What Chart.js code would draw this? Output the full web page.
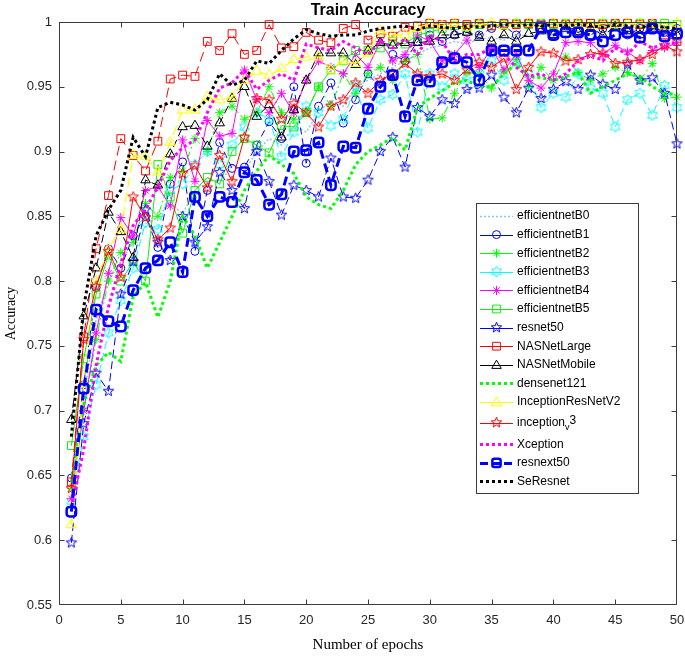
<!DOCTYPE html>
<html>
<head>
<meta charset="utf-8">
<script src="https://cdn.jsdelivr.net/npm/chart.js@4.4.1/dist/chart.umd.min.js"></script>
<style>
html,body{margin:0;padding:0;background:#fff;}
#wrap{width:685px;height:657px;}
</style>
</head>
<body>
<div id="wrap"><canvas id="c" width="685" height="657"></canvas></div>
<script>
// ---------- DATA ----------
const epochs = Array.from({length: 50}, (_, i) => i + 1);
const xTicks = [0, 5, 10, 15, 20, 25, 30, 35, 40, 45, 50];
const yTicks = [0.55, 0.6, 0.65, 0.7, 0.75, 0.8, 0.85, 0.9, 0.95, 1];

const effB0 = [0.640,0.710,0.770,0.800,0.815,0.830,0.842,0.850,0.860,0.852,
               0.870,0.880,0.875,0.890,0.885,0.900,0.910,0.905,0.920,0.915,
               0.930,0.940,0.935,0.950,0.955,0.960,0.965,0.970,0.975,0.980,
               0.982,0.985,0.983,0.987,0.988,0.986,0.990,0.989,0.991,0.990,
               0.992,0.991,0.993,0.992,0.994,0.993,0.992,0.995,0.994,0.993];
const effB1 = [0.648,0.720,0.795,0.825,0.810,0.835,0.850,0.826,0.875,0.892,
               0.823,0.870,0.907,0.887,0.888,0.905,0.923,0.910,0.950,0.891,
               0.935,0.953,0.922,0.940,0.960,0.949,0.975,0.970,0.985,0.990,
               0.985,0.990,0.992,0.990,0.995,0.997,0.990,0.999,0.995,0.990,
               0.997,0.993,0.990,0.995,0.997,0.990,0.995,0.998,0.992,0.995];
const effB2 = [0.640,0.700,0.755,0.800,0.822,0.830,0.860,0.850,0.880,0.885,
               0.910,0.900,0.930,0.935,0.925,0.930,0.950,0.930,0.925,0.930,
               0.950,0.935,0.960,0.945,0.960,0.965,0.955,0.970,0.975,0.925,
               0.926,0.945,0.961,0.960,0.949,0.962,0.971,0.950,0.965,0.955,
               0.973,0.961,0.955,0.960,0.965,0.961,0.955,0.968,0.941,0.942];
const effB3 = [0.630,0.680,0.720,0.760,0.785,0.810,0.845,0.840,0.870,0.875,
               0.890,0.900,0.890,0.905,0.919,0.930,0.925,0.896,0.915,0.935,
               0.930,0.920,0.925,0.951,0.918,0.940,0.944,0.960,0.915,0.960,
               0.950,0.960,0.955,0.960,0.970,0.955,0.970,0.960,0.934,0.945,
               0.942,0.960,0.949,0.945,0.919,0.940,0.945,0.928,0.951,0.934];
const effB4 = [0.632,0.700,0.760,0.806,0.849,0.835,0.870,0.873,0.858,0.909,
               0.877,0.924,0.912,0.914,0.963,0.940,0.930,0.945,0.930,0.955,
               0.970,0.965,0.960,0.975,0.965,0.985,0.970,0.975,0.990,0.985,
               0.970,0.975,0.986,0.965,0.980,0.963,0.975,0.955,0.949,0.960,
               0.984,0.985,0.984,0.975,0.982,0.977,0.970,0.978,0.980,0.984];
const effB5 = [0.673,0.740,0.790,0.820,0.800,0.815,0.800,0.890,0.865,0.837,
               0.870,0.880,0.875,0.900,0.910,0.905,0.899,0.920,0.919,0.930,
               0.950,0.963,0.970,0.978,0.978,0.980,0.985,0.983,0.990,0.992,
               0.995,0.997,0.996,0.998,0.997,0.998,0.999,0.998,0.999,0.998,
               0.999,0.998,0.999,0.999,0.998,0.999,0.999,0.998,0.999,0.998];
const resnet50 = [0.598,0.690,0.729,0.715,0.790,0.815,0.855,0.830,0.816,0.850,
                  0.830,0.842,0.884,0.870,0.856,0.900,0.877,0.851,0.874,0.870,
                  0.865,0.895,0.865,0.864,0.878,0.900,0.911,0.888,0.934,0.927,
                  0.940,0.937,0.948,0.949,0.959,0.942,0.930,0.949,0.941,0.948,
                  0.954,0.948,0.959,0.952,0.948,0.967,0.955,0.957,0.945,0.906];
const nasLarge = [0.645,0.757,0.825,0.866,0.910,0.897,0.885,0.908,0.956,0.959,
                  0.958,0.985,0.978,0.991,0.975,0.978,0.998,0.980,0.981,0.992,
                  0.986,0.984,0.995,0.998,0.986,0.991,0.989,0.996,0.997,0.999,
                  0.998,0.999,0.998,0.999,0.997,0.999,0.998,0.999,0.998,0.999,
                  0.998,0.999,0.999,0.998,0.999,0.999,0.998,0.999,0.990,0.985];
const nasMobile = [0.693,0.773,0.810,0.853,0.838,0.818,0.878,0.874,0.898,0.919,
                   0.920,0.904,0.922,0.941,0.950,0.927,0.936,0.911,0.932,0.955,
                   0.976,0.976,0.976,0.967,0.978,0.984,0.982,0.984,0.984,0.985,
                   0.990,0.990,0.992,0.988,0.985,0.990,0.985,0.991,0.993,0.990,
                   0.995,0.992,0.995,0.990,0.996,0.993,0.990,0.995,0.993,0.990];
const densenet121 = [0.645,0.705,0.735,0.745,0.738,0.788,0.799,0.772,0.800,0.850,
                     0.835,0.810,0.830,0.850,0.870,0.885,0.897,0.890,0.883,0.865,
                     0.859,0.856,0.870,0.890,0.900,0.905,0.911,0.901,0.934,0.941,
                     0.947,0.953,0.955,0.950,0.950,0.960,0.968,0.958,0.957,0.955,
                     0.958,0.961,0.945,0.950,0.955,0.960,0.958,0.950,0.945,0.944];
const incResV2 = [0.612,0.720,0.800,0.825,0.840,0.897,0.896,0.884,0.907,0.932,
                  0.932,0.942,0.940,0.942,0.955,0.962,0.959,0.964,0.971,0.973,
                  0.973,0.963,0.970,0.968,0.976,0.993,0.990,0.990,0.995,0.999,
                  0.997,0.999,0.996,0.998,0.999,0.997,0.999,0.999,0.998,0.999,
                  0.998,0.999,0.997,0.999,0.998,0.999,0.999,0.998,0.997,0.999];
const inceptionV3 = [0.640,0.755,0.796,0.823,0.803,0.865,0.849,0.832,0.841,0.883,
                     0.889,0.872,0.897,0.877,0.911,0.941,0.940,0.925,0.937,0.930,
                     0.919,0.935,0.940,0.953,0.945,0.955,0.960,0.968,0.960,0.958,
                     0.960,0.955,0.963,0.969,0.965,0.972,0.948,0.965,0.977,0.976,
                     0.970,0.971,0.975,0.976,0.968,0.969,0.971,0.975,0.982,0.977];
const xception = [0.625,0.670,0.735,0.780,0.814,0.843,0.855,0.873,0.893,0.903,
                  0.909,0.930,0.949,0.953,0.963,0.948,0.955,0.960,0.955,0.983,
                  0.980,0.978,0.985,0.980,0.975,0.985,0.980,0.987,0.975,0.990,
                  0.985,0.970,0.975,0.975,0.980,0.975,0.965,0.958,0.960,0.955,
                  0.960,0.970,0.975,0.970,0.980,0.975,0.985,0.980,0.983,0.984];
const resnext50 = [0.622,0.717,0.778,0.769,0.765,0.793,0.810,0.816,0.830,0.807,
                   0.865,0.850,0.865,0.861,0.884,0.878,0.859,0.867,0.900,0.901,
                   0.907,0.874,0.904,0.903,0.933,0.950,0.959,0.927,0.955,0.954,
                   0.969,0.972,0.969,0.955,0.978,0.978,0.978,0.978,0.996,0.990,
                   0.992,0.992,0.990,0.985,0.990,0.992,0.988,0.995,0.989,0.991];
const seResnet = [0.680,0.780,0.835,0.855,0.870,0.911,0.896,0.934,0.938,0.936,
                  0.932,0.940,0.960,0.951,0.955,0.970,0.968,0.978,0.987,0.994,
                  0.991,0.989,0.990,0.990,0.993,0.995,0.996,0.997,0.994,0.997,
                  0.996,0.995,0.997,0.996,0.997,0.998,0.997,0.998,0.997,0.998,
                  0.997,0.998,0.997,0.996,0.998,0.997,0.996,0.997,0.996,0.995];

const seriesNames = ['efficientnetB0','efficientnetB1','efficientnetB2','efficientnetB3',
  'efficientnetB4','efficientnetB5','resnet50','NASNetLarge','NASNetMobile','densenet121',
  'InceptionResNetV2','inception_v3','Xception','resnext50','SeResnet'];
const seriesValues = [effB0, effB1, effB2, effB3, effB4, effB5, resnet50, nasLarge, nasMobile,
  densenet121, incResV2, inceptionV3, xception, resnext50, seResnet];

// ---------- MARKER IMAGES ----------
function starCanvas(color, points, outer, inner) {
  const s = 13, cv = document.createElement('canvas');
  cv.width = s; cv.height = s;
  const g = cv.getContext('2d');
  g.strokeStyle = color; g.lineWidth = 1;
  g.beginPath();
  for (let k = 0; k < points * 2; k++) {
    const r = k % 2 === 0 ? outer : inner;
    const a = -Math.PI / 2 + k * Math.PI / points;
    const px = s / 2 + r * Math.cos(a), py = s / 2 + r * Math.sin(a);
    if (k === 0) g.moveTo(px, py); else g.lineTo(px, py);
  }
  g.closePath(); g.stroke();
  return cv;
}
const pentBlue = starCanvas('#0000ff', 5, 5.5, 2.3);
const pentRed = starCanvas('#ff0000', 5, 5.5, 2.3);
const hexCyan = starCanvas('#00ffff', 6, 5.5, 3.1);

// ---------- STYLES ----------
const styles = [
  {c:'#8cc6ee', w:1.5, dash:[2,2], pt:false},
  {c:'#0000ff', w:1, dash:[7,4], pt:'circle', r:4},
  {c:'#00ff00', w:1, dash:[8,3,2,3], pt:'star', r:4.5},
  {c:'#00ffff', w:1, dash:[8,4], pt:hexCyan},
  {c:'#ff00ff', w:1, dash:[], pt:'star', r:4.5},
  {c:'#11ee11', w:1, dash:[], pt:'rect', r:5.5},
  {c:'#0000ff', w:1, dash:[8,4], pt:pentBlue},
  {c:'#ff0000', w:1, dash:[10,5], pt:'rect', r:5.5},
  {c:'#000000', w:1, dash:[8,4], pt:'triangle', r:5.5},
  {c:'#00ff00', w:3, dash:[3,3], pt:false},
  {c:'#ffff00', w:1.2, dash:[10,5], pt:'triangle', r:6},
  {c:'#ff0000', w:1, dash:[], pt:pentRed},
  {c:'#ff00ff', w:3, dash:[3,3], pt:false},
  {c:'#0000ff', w:3, dash:[9,5], pt:'rectRounded', r:5.5, pw:2.5},
  {c:'#000000', w:3, dash:[3,3], pt:false}
];

const datasets = seriesNames.map((name, i) => {
  const s = styles[i];
  return {
    label: name,
    data: epochs.map((e, k) => ({x: e, y: seriesValues[i][k]})),
    borderColor: s.c,
    borderWidth: s.w,
    borderDash: s.dash,
    borderCapStyle: 'butt',
    tension: 0,
    fill: false,
    pointStyle: s.pt || 'circle',
    pointRadius: s.pt ? (s.r || 5) : 0,
    pointHoverRadius: s.pt ? (s.r || 5) : 0,
    pointBorderColor: s.c,
    pointBackgroundColor: 'rgba(0,0,0,0)',
    pointBorderWidth: s.pw || 1,
    clip: false,
    order: seriesNames.length - i
  };
});

// ---------- PLUGIN: frame, inward ticks, legend ----------
function drawMarker(ctx, st, x, y, r, color, lw) {
  ctx.save();
  ctx.strokeStyle = color; ctx.lineWidth = lw; ctx.setLineDash([]);
  ctx.beginPath();
  if (st instanceof HTMLCanvasElement) {
    ctx.drawImage(st, x - st.width / 2, y - st.height / 2);
    ctx.restore(); return;
  }
  if (st === 'circle') { ctx.arc(x, y, r, 0, Math.PI * 2); }
  else if (st === 'rect') { const h = r / Math.SQRT2; ctx.rect(x - h, y - h, 2 * h, 2 * h); }
  else if (st === 'rectRounded') {
    const h = r * 0.75, cr = r * 0.35;
    ctx.roundRect ? ctx.roundRect(x - h, y - h, 2 * h, 2 * h, cr) : ctx.rect(x - h, y - h, 2 * h, 2 * h);
  }
  else if (st === 'triangle') {
    for (let k = 0; k < 3; k++) {
      const a = -Math.PI / 2 + k * 2 * Math.PI / 3;
      const px = x + r * Math.cos(a), py = y + r * Math.sin(a) + r * 0.15;
      if (k === 0) ctx.moveTo(px, py); else ctx.lineTo(px, py);
    }
    ctx.closePath();
  }
  else if (st === 'star') {
    for (let k = 0; k < 4; k++) {
      const a = k * Math.PI / 4;
      ctx.moveTo(x - r * Math.cos(a), y - r * Math.sin(a));
      ctx.lineTo(x + r * Math.cos(a), y + r * Math.sin(a));
    }
  }
  ctx.stroke();
  ctx.restore();
}

const framePlugin = {
  id: 'frameLegend',
  afterDraw(chart) {
    const {ctx, chartArea: a, scales: {x, y}} = chart;
    ctx.save();
    const L = Math.round(a.left) + 0.5, R = Math.round(a.right) - 0.5;
    const T = Math.round(a.top) + 0.5, B = Math.round(a.bottom) - 0.5;
    ctx.strokeStyle = '#3c3c3c'; ctx.lineWidth = 1; ctx.setLineDash([]);
    ctx.strokeRect(L, T, R - L, B - T);
    const tl = 5;
    ctx.beginPath();
    x.ticks.forEach(t => {
      const px = Math.round(x.getPixelForValue(t.value)) + 0.5;
      if (px <= L + 1 || px >= R - 1) return;
      ctx.moveTo(px, B); ctx.lineTo(px, B - tl);
      ctx.moveTo(px, T); ctx.lineTo(px, T + tl);
    });
    y.ticks.forEach(t => {
      const py = Math.round(y.getPixelForValue(t.value)) + 0.5;
      if (py <= T + 1 || py >= B - 1) return;
      ctx.moveTo(L, py); ctx.lineTo(L + tl, py);
      ctx.moveTo(R, py); ctx.lineTo(R - tl, py);
    });
    ctx.stroke();

    // legend box
    const bx = 476.5, by = 203.5, bw = 162, bh = 290;
    ctx.fillStyle = '#ffffff';
    ctx.fillRect(bx, by, bw, bh);
    ctx.strokeStyle = '#3c3c3c';
    ctx.strokeRect(bx, by, bw, bh);
    ctx.font = '12px "Liberation Sans", Arial, sans-serif';
    ctx.textBaseline = 'middle';
    ctx.fillStyle = '#000';
    seriesNames.forEach((name, i) => {
      const s = styles[i];
      const ry = 216 + i * 18.6 + (i >= 11 ? 2 : 0) + (i >= 12 ? 3 : 0);
      const dotted = s.dash.length === 2 && s.dash[0] === s.dash[1];
      ctx.save();
      ctx.strokeStyle = s.c; ctx.lineWidth = s.w;
      ctx.setLineDash(dotted ? s.dash : (i === 13 ? [8, 4] : []));
      ctx.beginPath();
      ctx.moveTo(480, Math.round(ry) + (s.w % 2 ? 0.5 : 0));
      ctx.lineTo(513, Math.round(ry) + (s.w % 2 ? 0.5 : 0));
      ctx.stroke();
      ctx.restore();
      if (s.pt) drawMarker(ctx, s.pt, 496.5, ry, s.r || 5, s.c, s.pw || 1);
      if (name === 'inception_v3') {
        ctx.fillText('inception', 517, ry);
        const w1 = ctx.measureText('inception').width;
        ctx.font = '9px "Liberation Sans", Arial, sans-serif';
        ctx.fillText('v', 517 + w1, ry + 5);
        const w2 = ctx.measureText('v').width;
        ctx.font = '12px "Liberation Sans", Arial, sans-serif';
        ctx.fillText('3', 517 + w1 + w2, ry - 2);
      } else {
        ctx.fillText(name, 517, ry);
      }
    });
    ctx.restore();
  }
};

// ---------- CHART ----------
new Chart(document.getElementById('c'), {
  type: 'line',
  data: { datasets },
  options: {
    responsive: false,
    animation: false,
    devicePixelRatio: 1,
    layout: { padding: { left: 0, right: 8, top: 0, bottom: 0 } },
    plugins: {
      legend: { display: false },
      tooltip: { enabled: false },
      title: {
        display: true,
        text: 'Train Accuracy',
        fullSize: false,
        color: '#000',
        font: { family: '"Liberation Sans", Arial, sans-serif', size: 16, weight: 'bold', lineHeight: 1.2 },
        padding: { top: 1, bottom: 1.8 }
      }
    },
    scales: {
      x: {
        type: 'linear',
        min: 0, max: 50,
        afterFit(scale) { scale.height = 52; scale.paddingRight = 0; scale.paddingLeft = 0; },
        afterBuildTicks(scale) { scale.ticks = xTicks.map(v => ({value: v})); },
        grid: { display: false, drawTicks: false },
        border: { display: false },
        ticks: {
          padding: 8,
          color: '#262626',
          font: { family: '"Liberation Sans", Arial, sans-serif', size: 13 },
          maxRotation: 0,
          callback: v => String(v)
        },
        title: {
          display: true,
          text: 'Number of epochs',
          color: '#000',
          font: { family: '"Liberation Serif", "Times New Roman", serif', size: 15, lineHeight: 1.2 },
          padding: { top: 0, bottom: 3 }
        }
      },
      y: {
        type: 'linear',
        min: 0.55, max: 1,
        afterFit(scale) { scale.width = 59; },
        afterBuildTicks(scale) { scale.ticks = yTicks.map(v => ({value: v})); },
        grid: { display: false, drawTicks: false },
        border: { display: false },
        ticks: {
          padding: 7,
          color: '#262626',
          font: { family: '"Liberation Sans", Arial, sans-serif', size: 13 },
          callback: v => String(parseFloat(Number(v).toFixed(2)))
        },
        title: {
          display: true,
          text: 'Accuracy',
          color: '#000',
          font: { family: '"Liberation Serif", "Times New Roman", serif', size: 14, lineHeight: 1.2 },
          padding: { top: 3, bottom: 0 }
        }
      }
    }
  },
  plugins: [framePlugin]
});
</script>
</body>
</html>
